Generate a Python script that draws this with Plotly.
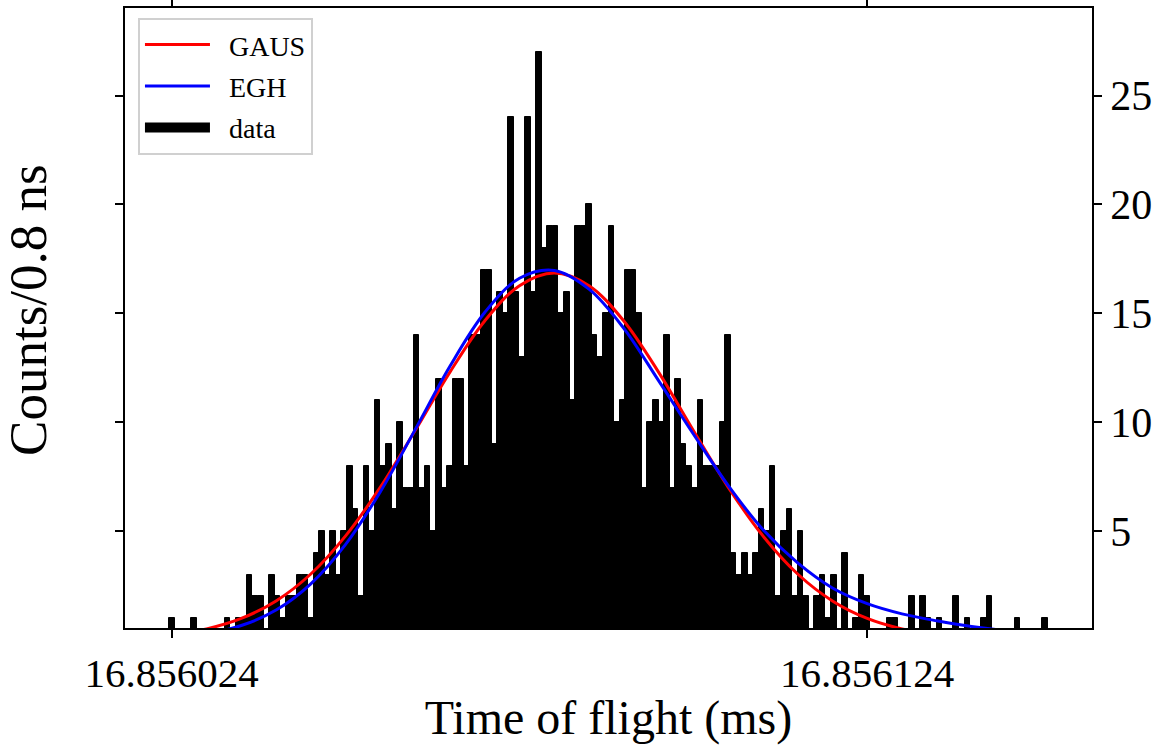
import plotly.graph_objects as go

# ---- data ----
tick_vals_ns = [0, 100]
tick_labels = ["16.856024", "16.856124"]
y_tick_vals = [5, 10, 15, 20, 25]

bin_width_ns = 0.8
counts = [1, 0, 0, 0, 1, 0, 0, 0, 0, 0,
          1, 0, 1, 1, 3, 2, 2, 0, 3, 2,
          1, 2, 2, 3, 3, 1, 4, 5, 3, 5,
          3, 5, 8, 6, 2, 8, 5, 11, 8, 9,
          6, 10, 7, 7, 14, 7, 8, 5, 12, 7,
          8, 12, 12, 8, 14, 14, 17, 17, 9, 16,
          15, 24, 16, 13, 24, 16, 27, 18, 19, 19,
          15, 16, 11, 19, 19, 20, 14, 13, 15, 19,
          10, 11, 17, 17, 15, 7, 10, 11, 10, 14,
          7, 12, 9, 8, 7, 11, 8, 8, 8, 10,
          14, 4, 3, 4, 3, 4, 6, 5, 8, 2,
          5, 6, 2, 5, 2, 0, 2, 3, 1, 3,
          0, 4, 0, 1, 3, 2, 0, 0, 0, 1,
          1, 0, 0, 2, 0, 2, 1, 0, 1, 0,
          0, 2, 0, 1, 0, 0, 1, 2, 0, 0,
          0, 0, 1, 0, 0, 0, 0, 1]
bin_centers_ns = [i * bin_width_ns for i in range(len(counts))]

curve_t_ns = [0, 5, 10, 15, 20, 25, 30, 35, 40, 45, 50, 55, 60, 65,
              70, 75, 80, 85, 90, 95, 100, 105, 110, 115, 120, 126]
gaus_vals = [0.244, 0.509, 0.989, 1.794, 3.03, 4.78, 7.02, 9.62, 12.30, 14.65,
             16.27, 16.85, 16.27, 14.65, 12.30, 9.62, 7.02, 4.78, 3.03, 1.794,
             0.989, 0.509, 0.244, 0.109, 0.045, 0.012]
egh_vals = [0.113, 0.289, 0.663, 1.374, 2.58, 4.39, 6.81, 9.66, 12.57, 15.04,
            16.61, 16.97, 16.11, 14.31, 11.91, 9.46, 7.10, 5.07, 3.54, 2.39,
            1.67, 1.20, 0.88, 0.62, 0.43, 0.28]

FONT = "Liberation Serif"
X_RANGE = [-6.72, 132.32]
Y_RANGE = [0.55, 29.02]
PAD = "\u00a0\u00a0"

fig = go.Figure()
fig.add_trace(go.Bar(
    x=bin_centers_ns, y=counts, width=bin_width_ns, name="data",
    marker=dict(color="black", line=dict(color="black", width=1)),
    showlegend=False, yaxis="y"))
fig.add_trace(go.Scatter(
    x=curve_t_ns, y=gaus_vals, mode="lines", name=PAD + "GAUS", yaxis="y2",
    line=dict(color="#ff0000", width=3, shape="spline"),
    legendrank=1, legendgroup="g1"))
fig.add_trace(go.Scatter(
    x=curve_t_ns, y=egh_vals, mode="lines", name=PAD + "EGH", yaxis="y2",
    line=dict(color="#0000ff", width=3, shape="spline"),
    legendrank=2, legendgroup="g2"))
# legend entry for the histogram (patch-like swatch)
fig.add_trace(go.Scatter(
    x=[None], y=[None], mode="lines", name=PAD + "data", yaxis="y2",
    line=dict(color="black", width=20), legendrank=3, legendgroup="g3"))

axis_common = dict(ticks="outside", ticklen=8, tickwidth=1.5, tickcolor="black",
                   showline=True, linecolor="black", linewidth=1.5,
                   showgrid=False, zeroline=False, automargin=False)

fig.update_layout(
    width=1163, height=745,
    margin=dict(l=125, r=71, t=8, b=117),
    paper_bgcolor="white", plot_bgcolor="white",
    bargap=0,
    font=dict(family=FONT, color="black"),
    showlegend=True,
    legend=dict(x=0.0134, y=0.984, xanchor="left", yanchor="top",
                bgcolor="white", bordercolor="#d0d0d0", borderwidth=2,
                itemwidth=65, font=dict(size=28, family=FONT),
                traceorder="grouped", tracegroupgap=2),
    xaxis=dict(range=X_RANGE, tickvals=tick_vals_ns, ticktext=tick_labels,
               mirror="allticks",
               tickfont=dict(size=41, family=FONT),
               title=dict(text="Time of flight (ms)", font=dict(size=48, family=FONT),
                          standoff=6),
               **axis_common),
    yaxis=dict(range=Y_RANGE, tickvals=y_tick_vals, side="left",
               showticklabels=False, mirror=False, **axis_common),
    yaxis2=dict(range=Y_RANGE, tickvals=y_tick_vals, side="right",
                overlaying="y", tickfont=dict(size=42, family=FONT),
                **axis_common),
    annotations=[dict(text="Counts/0.8 ns", xref="paper", yref="paper",
                      x=-0.1003, y=0.513, xanchor="center", yanchor="middle",
                      textangle=-90, showarrow=False,
                      font=dict(size=53, family=FONT))],
)

fig.write_html("out.html")
